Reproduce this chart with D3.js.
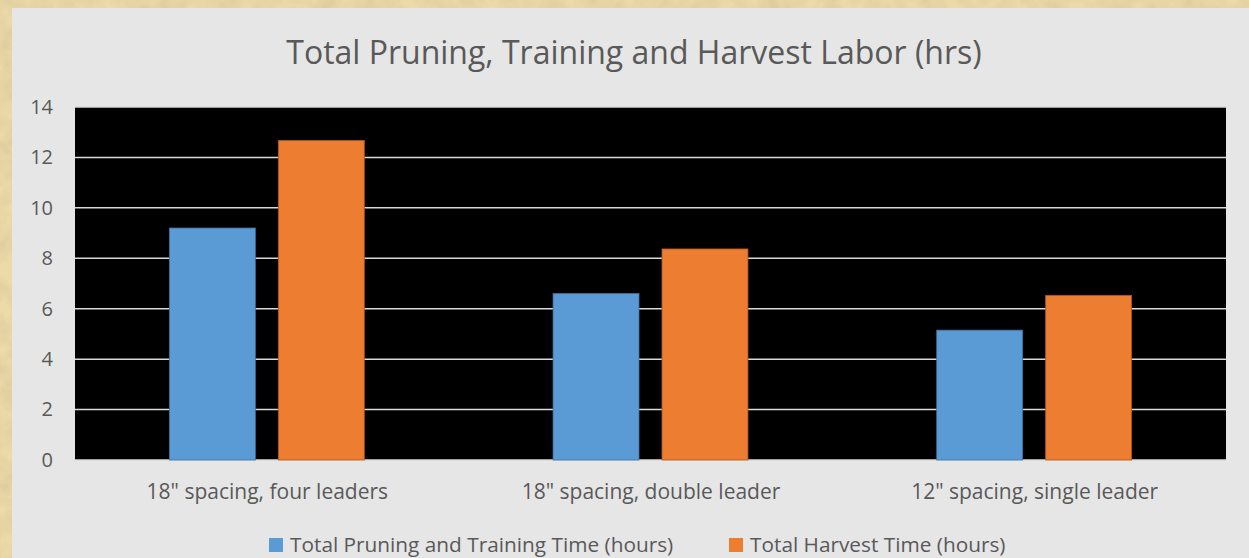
<!DOCTYPE html>
<html><head><meta charset="utf-8">
<script src="https://cdn.jsdelivr.net/npm/d3@7"></script>
<style>html,body{margin:0;padding:0;background:#e9d9a9;}svg{display:block;}</style>
</head><body>
<svg id="chart" width="1249" height="558"></svg>
<script>
const categories = ["18\" spacing, four leaders", "18\" spacing, double leader", "12\" spacing, single leader"];
const seriesNames = ["Total Pruning and Training Time (hours)", "Total Harvest Time (hours)"];
const pruningValues = [9.2, 6.6, 5.15];
const harvestValues = [12.67, 8.37, 6.53];
const yTicks = [0, 2, 4, 6, 8, 10, 12, 14];
const seriesColors = ["#5B9BD5", "#ED7D31"];
const seriesStrokes = ["#41719C", "#AE5A21"];
const title = "Total Pruning, Training and Harvest Labor (hrs)";

const svg = d3.select("#chart");
const W = 1249, H = 558;
const font = "'Open Sans', 'Noto Sans', sans-serif";
const textColor = "#595959";

// parchment background
const defs = svg.append("defs");
const f = defs.append("filter").attr("id","paper").attr("x",0).attr("y",0).attr("width","100%").attr("height","100%");
f.append("feTurbulence").attr("type","fractalNoise").attr("baseFrequency","0.05").attr("numOctaves",4).attr("seed",7).attr("result","n");
f.append("feColorMatrix").attr("in","n").attr("type","matrix")
  .attr("values","0 0 0 0 0.70  0 0 0 0 0.58  0 0 0 0 0.34  1.6 0 0 0 -0.5").attr("result","c");
f.append("feComposite").attr("in","c").attr("in2","SourceGraphic").attr("operator","over");
svg.append("rect").attr("width",W).attr("height",H).attr("fill","#ecdaa8");
svg.append("rect").attr("width",W).attr("height",H).attr("fill","#ecdaa8").attr("filter","url(#paper)").attr("opacity",0.85);

// chart area
svg.append("rect").attr("x",12).attr("y",8).attr("width",W-12).attr("height",H-8).attr("fill","#e6e6e6");

const plot = {left:75, right:1226, top:107, bottom:460};

const y = d3.scaleLinear().domain([0,14]).range([plot.bottom, plot.top]);
const x0 = d3.scaleBand().domain(categories).range([plot.left, plot.right]).paddingInner(0.492).paddingOuter(0.246);
const x1 = d3.scaleBand().domain(seriesNames).range([0, x0.bandwidth()]).paddingInner(0.211);

svg.append("rect").attr("x",plot.left).attr("y",plot.top).attr("width",plot.right-plot.left).attr("height",plot.bottom-plot.top).attr("fill","#000");

// gridlines
svg.append("g").selectAll("line").data(yTicks).join("line")
  .attr("x1",plot.left).attr("x2",plot.right)
  .attr("y1",d=>y(d)).attr("y2",d=>y(d))
  .attr("stroke","#d9d9d9").attr("stroke-width",1.5);

// y axis labels
const yAxis = d3.axisLeft(y).tickValues(yTicks).tickSize(0).tickPadding(0);
const ga = svg.append("g").attr("transform",`translate(53,0)`).call(yAxis);
ga.select(".domain").remove();
ga.selectAll("text").attr("font-family",font).attr("font-size",20).attr("fill",textColor);

// bars
const rows = categories.map((c,i)=>({cat:c, vals:[pruningValues[i], harvestValues[i]]}));
const groups = svg.append("g").selectAll("g").data(rows).join("g")
  .attr("transform",d=>`translate(${x0(d.cat)},0)`);
groups.selectAll("rect").data(d=>d.vals.map((v,j)=>({s:seriesNames[j], v, j}))).join("rect")
  .attr("x",d=>x1(d.s)).attr("width",x1.bandwidth())
  .attr("y",d=>y(d.v)).attr("height",d=>y(0)-y(d.v))
  .attr("fill",d=>seriesColors[d.j]).attr("stroke",d=>seriesStrokes[d.j]).attr("stroke-width",0.8);

// x axis labels
const xc = d3.scalePoint().domain(categories).range([x0(categories[0])+x0.bandwidth()/2, x0(categories[2])+x0.bandwidth()/2]);
const xAxis = d3.axisBottom(xc).tickSize(0).tickPadding(0);
const gx = svg.append("g").attr("transform",`translate(0,499)`).call(xAxis);
gx.select(".domain").remove();
gx.selectAll("text").attr("y",0).attr("dy",0).attr("font-family",font).attr("font-size",21).attr("fill",textColor);

// title
svg.append("text").attr("x",634).attr("y",64).attr("text-anchor","middle")
  .attr("font-family",font).attr("font-size",32).attr("fill",textColor).text(title);

// legend
const legendX = [269, 729];
const lg = svg.append("g").selectAll("g").data(seriesNames).join("g")
  .attr("transform",(d,i)=>`translate(${legendX[i]},538)`);
lg.append("rect").attr("width",14).attr("height",14).attr("fill",(d,i)=>seriesColors[i]);
lg.append("text").attr("x",21).attr("y",13.5).attr("font-family",font).attr("font-size",20.8).attr("fill",textColor).text(d=>d);
</script>
</body></html>
